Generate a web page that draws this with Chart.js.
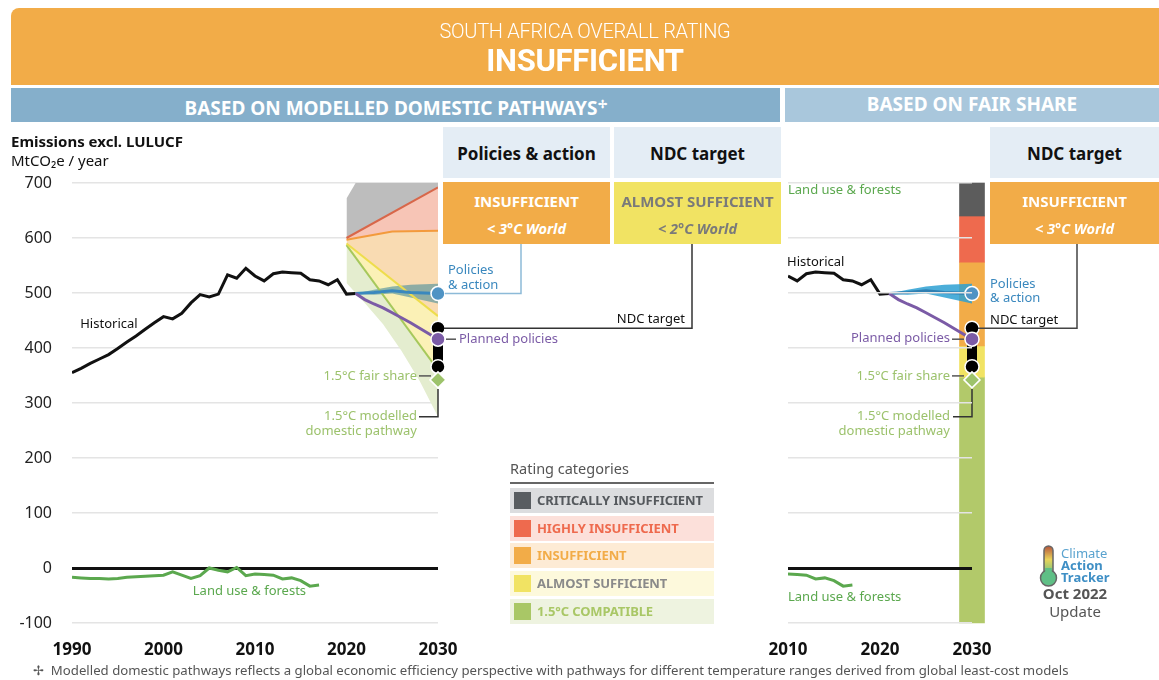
<!DOCTYPE html>
<html>
<head>
<meta charset="utf-8">
<script src="https://cdn.jsdelivr.net/npm/chart.js@4.4.0/dist/chart.umd.min.js"></script>
<style>
  body { margin:0; width:1159px; height:680px; position:relative; overflow:hidden; background:#fff; font-family:"Noto Sans", sans-serif; }
  canvas { position:absolute; left:0; top:0; }
  .abs { position:absolute; box-sizing:border-box; }
  .banner { left:11px; top:8px; width:1148px; height:77px; background:#f2ac48; border-top-left-radius:8px; color:#fff; text-align:center; }
  .banner .t1 { position:absolute; left:0; right:0; top:11px; font-family:Roboto, sans-serif; font-weight:300; font-size:20px; letter-spacing:-0.3px; }
  .banner .t2 { position:absolute; left:0; right:0; top:34px; font-family:Roboto, sans-serif; font-weight:700; font-size:31px; letter-spacing:-0.3px; }
  .bar { top:88px; height:34px; color:#fff; font-weight:700; font-size:19px; text-align:center; line-height:32px; }
  .head { top:127px; height:51px; background:#e4edf5; color:#111; font-weight:700; font-size:17px; text-align:center; line-height:53px; }
  .rate { top:182px; height:62px; text-align:center; font-weight:700; }
  .rate .a { position:absolute; left:0; right:0; top:9px; font-size:15px; }
  .rate .b { position:absolute; left:0; right:0; top:36px; font-size:14.5px; font-style:italic; }
  .ytitle { left:11px; top:132px; font-size:15px; color:#111; line-height:19px; }
  .leg-title { left:510px; top:458px; font-size:14.5px; color:#555; }
  .leg-row { left:510px; width:204px; height:25px; }
  .leg-row .sw { position:absolute; left:4px; top:4px; width:17px; height:17px; }
  .leg-row .tx { position:absolute; left:27px; top:0; line-height:25px; font-size:13px; font-weight:700; letter-spacing:-0.1px; }
  .leg-rule { left:510px; top:482px; width:204px; height:2px; background:#666; }
  .foot { left:33px; top:661px; font-size:13.2px; color:#555; white-space:nowrap; }
</style>
</head>
<body>
<canvas id="leftChart" width="1159" height="680"></canvas>
<canvas id="rightChart" width="1159" height="680"></canvas>

<div class="abs banner"><div class="t1">SOUTH AFRICA OVERALL RATING</div><div class="t2">INSUFFICIENT</div></div>
<div class="abs bar" style="left:11px;width:769px;background:#85afcb;">BASED ON MODELLED DOMESTIC PATHWAYS<sup style="font-size:11px;">✢</sup></div>
<div class="abs bar" style="left:785px;width:374px;background:#a9c7dc;">BASED ON FAIR SHARE</div>

<div class="abs head" style="left:443px;width:167px;">Policies &amp; action</div>
<div class="abs head" style="left:614px;width:167px;">NDC target</div>
<div class="abs head" style="left:990px;width:169px;">NDC target</div>

<div class="abs rate" style="left:443px;width:167px;background:#f2ac48;color:#fff;"><div class="a">INSUFFICIENT</div><div class="b">&lt; 3°C World</div></div>
<div class="abs rate" style="left:614px;width:167px;background:#f1e363;color:#7a7a7a;"><div class="a">ALMOST SUFFICIENT</div><div class="b">&lt; 2°C World</div></div>
<div class="abs rate" style="left:990px;width:169px;background:#f2ac48;color:#fff;"><div class="a">INSUFFICIENT</div><div class="b">&lt; 3°C World</div></div>

<div class="abs ytitle"><b>Emissions excl. LULUCF</b><br>MtCO₂e / year</div>

<div class="abs leg-title">Rating categories</div>
<div class="abs leg-rule"></div>
<div id="legendRows"></div>

<svg class="abs" style="left:1036px;top:544px;" width="26" height="44" viewBox="0 0 26 44">
  <defs><linearGradient id="th" x1="0" y1="0" x2="0" y2="1">
    <stop offset="0" stop-color="#b5543c"/><stop offset="0.45" stop-color="#e9d45a"/><stop offset="1" stop-color="#5fbf86"/></linearGradient></defs>
  <rect x="8" y="2" width="9" height="30" rx="4.5" fill="url(#th)" stroke="#666" stroke-width="1.5"/>
  <circle cx="12.5" cy="34" r="8" fill="#5fbf86" stroke="#666" stroke-width="1.5"/>
  <rect x="9.2" y="24" width="6.6" height="10" fill="#5fbf86"/>
</svg>
<div class="abs" style="left:1061px;top:547px;line-height:12px;font-size:13px;color:#5aa3cf;">Climate<br><b style="color:#3f8fc5">Action<br>Tracker</b></div>
<div class="abs" style="left:1025px;top:584px;width:100px;text-align:center;color:#555;font-size:15px;line-height:18px;"><b>Oct 2022</b><br>Update</div>

<div class="abs foot">✢&nbsp; Modelled domestic pathways reflects a global economic efficiency perspective with pathways for different temperature ranges derived from global least-cost models</div>

<script>
// ---- data ----
const histYears = [1990,1991,1992,1993,1994,1995,1996,1997,1998,1999,2000,2001,2002,2003,2004,2005,2006,2007,2008,2009,2010,2011,2012,2013,2014,2015,2016,2017,2018,2019,2020,2021];
const histValues = [355,363,372,380,388,399,411,422,434,446,457,453,463,482,497,493,498,533,527,545,531,522,535,538,537,536,524,522,515,524,498,499];

const landYears = [1990,1991,1992,1993,1994,1995,1996,1997,1998,1999,2000,2001,2002,2003,2004,2005,2006,2007,2008,2009,2010,2011,2012,2013,2014,2015,2016,2017];
const landValues = [-17,-18,-19,-19,-20,-19,-17,-16,-15,-14,-13,-7,-13,-19,-14,0,-4,-7,1,-14,-11,-12,-13,-20,-18,-23,-33,-31];

const policyYears = [2021,2023,2025,2027,2030];
const policyMid = [499,501,504,501,499];
const policyHigh = [499,506,512,515,517];
const policyLow = [499,497,499,492,481];

const plannedYears = [2021,2022,2023,2024,2025,2026,2027,2028,2029,2030];
const plannedValues = [499,488,480,473,464,455,446,436,426,416];

// modelled domestic pathway boundaries
const critYears = [2020,2021,2030];
const critTop = [672,700,700];
const highlyYears = [2020,2030];
const highlyTop = [600,692];
const insuffYears = [2020,2025,2030];
const insuffTop = [597,612,613];
const almostYears = [2020,2030];
const almostTop = [590,458];
const compatYears = [2020,2030];
const compatTop = [587,360];
const compatLowYears = [2020,2022,2024,2026,2028,2030];
const compatLow = [518,482,443,395,340,275];

const ndcRange = [436,366];
const fairShareLevel = 342;

// fair share ranges in 2030 (critically, highly, insufficient, almost, 1.5C)
const fairShareRanges = [[640,700],[556,640],[404,556],[347,404],[-100,347]];
const fairShareColors = ['#5c5c5c','#ee6a4e','#f2ac48','#f1e363','#b2c96a'];

const categoryNames = ['CRITICALLY INSUFFICIENT','HIGHLY INSUFFICIENT','INSUFFICIENT','ALMOST SUFFICIENT','1.5°C COMPATIBLE'];
const categoryColors = ['#595d61','#ee6a4e','#f2ac48','#f1e363','#a9c766'];
const categoryBg = ['#dcdddf','#fce0da','#fdebd5','#fdf9dc','#eef3e0'];
const categoryText = ['#55595d','#ee6a4e','#f2ac48','#8a8a8a','#a9c766'];
const bandFills = ['#bdbdbd','#f7c5b6','#f9dbb2','#fbf1b6','#e4edcf'];
const bandLines = [null,'#d8674a','#f39a3c','#eedd4c','#a6c85c'];

const yTicks = [-100,0,100,200,300,400,500,600,700];

// ---- legend rows ----
const rowTops = [488,516,543,571,599];
document.getElementById('legendRows').innerHTML = categoryNames.map((n, i) =>
  `<div class="abs leg-row" style="top:${rowTops[i]}px;background:${categoryBg[i]}">` +
  `<div class="sw" style="background:${categoryColors[i]}"></div>` +
  `<div class="tx" style="color:${categoryText[i]}">${n}</div></div>`).join('');

// ---- helpers ----
Chart.defaults.font.family = "'Noto Sans', sans-serif";
const pts = (xs, ys) => xs.map((v, i) => ({ x: v, y: ys[i] }));
const lastR = r => ctx => ctx.dataIndex === ctx.dataset.data.length - 1 ? r : 0;

function label(ctx, str, x, y, color, align) {
  ctx.save();
  ctx.font = "13px 'Noto Sans', sans-serif";
  ctx.fillStyle = color;
  ctx.textAlign = align || 'left';
  ctx.textBaseline = 'middle';
  ctx.fillText(str, x, y);
  ctx.restore();
}
function poly(ctx, p, color, w) {
  ctx.save();
  ctx.strokeStyle = color;
  ctx.lineWidth = w || 1.5;
  ctx.beginPath();
  p.forEach((q, i) => i ? ctx.lineTo(q[0], q[1]) : ctx.moveTo(q[0], q[1]));
  ctx.stroke();
  ctx.restore();
}

const gridOpts = {
  drawTicks: false,
  color: c => c.tick.value === 0 ? '#111' : '#e4e4e4',
  lineWidth: c => c.tick.value === 0 ? 3 : 1.5
};
const xTickOpts = { stepSize: 10, padding: 9, maxRotation: 0, color: '#111', font: { size: 17, weight: 'bold' }, callback: v => String(v) };
const boxBottom = 244;

function markerSets() {
  return [
    { data: pts([2030, 2030], ndcRange), borderColor: '#000', borderWidth: 10, pointRadius: 7,
      pointBackgroundColor: '#000', pointBorderColor: '#fff', pointBorderWidth: 1.5, clip: false, order: 3 },
    { data: pts([2030], [fairShareLevel]), showLine: false, pointStyle: 'rectRot', pointRadius: 8,
      pointBackgroundColor: '#9dc36b', pointBorderColor: '#fff', pointBorderWidth: 1.5, clip: false, order: 1 }
  ];
}

// ---- left chart: modelled domestic pathways ----
const leftNotes = {
  id: 'leftNotes',
  afterDatasetsDraw(chart) {
    const ctx = chart.ctx, X = v => chart.scales.x.getPixelForValue(v), Y = v => chart.scales.y.getPixelForValue(v);
    const xe = X(2030);
    label(ctx, 'Historical', X(1990.9), Y(444), '#111');
    const pY = Y(policyMid[policyMid.length - 1]);
    poly(ctx, [[xe + 7, pY], [521, pY], [521, boxBottom]], '#8dbad8');
    label(ctx, 'Policies', xe + 10, pY - 23, '#3a88be');
    label(ctx, '& action', xe + 10, pY - 8, '#3a88be');
    const nY = Y(ndcRange[0]);
    poly(ctx, [[xe + 6, nY], [692, nY], [692, boxBottom]], '#333');
    label(ctx, 'NDC target', 685, nY - 9, '#111', 'right');
    const plY = Y(plannedValues[plannedValues.length - 1]);
    poly(ctx, [[xe + 8, plY], [xe + 18, plY]], '#555');
    label(ctx, 'Planned policies', xe + 21, plY, '#7b5ba6');
    const fY = Y(fairShareLevel);
    poly(ctx, [[xe - 19, fY - 4], [xe - 7, fY - 4]], '#555');
    label(ctx, '1.5°C fair share', xe - 21, fY - 4, '#9cc26c', 'right');
    const mY = Y(compatLow[compatLow.length - 1]);
    poly(ctx, [[xe - 19, mY], [xe, mY], [xe, fY + 9]], '#333');
    label(ctx, '1.5°C modelled', xe - 21, mY, '#9cc26c', 'right');
    label(ctx, 'domestic pathway', xe - 21, mY + 15, '#9cc26c', 'right');
    label(ctx, 'Land use & forests', X(2003.2), Y(-43), '#5ba84e');
  }
};

const bandX = [critYears, highlyYears, insuffYears, almostYears, compatYears, compatLowYears];
const bandY = [critTop, highlyTop, insuffTop, almostTop, compatTop, compatLow];
const bandSets = bandX.map((xs, i) => ({
  data: pts(xs, bandY[i]),
  borderColor: bandLines[i] || 'rgba(0,0,0,0)',
  borderWidth: bandLines[i] ? 2 : 0,
  backgroundColor: bandFills[i],
  fill: i < 5 ? '+1' : false,
  order: 20
}));

new Chart(document.getElementById('leftChart'), {
  type: 'line',
  data: {
    datasets: [
      ...bandSets,
      { data: pts(policyYears, policyHigh), borderWidth: 0, backgroundColor: 'rgba(70,140,155,0.6)', fill: '+1', order: 10 },
      { data: pts(policyYears, policyLow), borderWidth: 0, fill: false, order: 10 },
      { data: pts(histYears, histValues), borderColor: '#111', borderWidth: 3, order: 5 },
      { data: pts(landYears, landValues), borderColor: '#5ba84e', borderWidth: 3, order: 5 },
      { data: pts(policyYears, policyMid), borderColor: '#3a88be', borderWidth: 3, pointRadius: lastR(7),
        pointBackgroundColor: '#4f93c4', pointBorderColor: '#fff', pointBorderWidth: 1.5, clip: false, order: 4 },
      { data: pts(plannedYears, plannedValues), borderColor: '#7b5ba6', borderWidth: 3, pointRadius: lastR(7),
        pointBackgroundColor: '#7b5ba6', pointBorderColor: '#fff', pointBorderWidth: 1.5, clip: false, order: 2 },
      ...markerSets()
    ]
  },
  options: {
    responsive: false, animation: false, events: [],
    layout: { padding: { left: 0, top: 183, right: 1159 - 438, bottom: 0 } },
    elements: { point: { radius: 0 }, line: { tension: 0 } },
    plugins: { legend: { display: false }, tooltip: { enabled: false }, filler: { drawTime: 'beforeDatasetsDraw' } },
    scales: {
      x: { type: 'linear', min: 1990, max: 2030, offset: false, grid: { display: false }, border: { display: false },
           ticks: xTickOpts, afterFit: s => { s.height = 57; } },
      y: { min: -100, max: 700, grid: gridOpts, border: { display: false },
           ticks: { stepSize: 100, padding: 20, color: '#222', font: { size: 16 }, callback: v => String(v) },
           afterBuildTicks: s => { s.ticks = yTicks.map(v => ({ value: v })); },
           afterFit: s => { s.width = 72; } }
    }
  },
  plugins: [leftNotes]
});

// ---- right chart: fair share ----
const rightNotes = {
  id: 'rightNotes',
  afterDatasetsDraw(chart) {
    const ctx = chart.ctx, X = v => chart.scales.x.getPixelForValue(v), Y = v => chart.scales.y.getPixelForValue(v);
    const xe = X(2030);
    label(ctx, 'Land use & forests', X(2010), Y(686), '#5ba84e');
    label(ctx, 'Historical', X(2010) - 1, Y(556), '#111');
    const pY = Y(policyMid[policyMid.length - 1]);
    label(ctx, 'Policies', xe + 18, pY - 9, '#3a88be');
    label(ctx, '& action', xe + 18, pY + 5, '#3a88be');
    const nY = Y(ndcRange[0]);
    poly(ctx, [[xe + 6, nY], [1077, nY], [1077, boxBottom]], '#444');
    label(ctx, 'NDC target', xe + 18, nY - 8, '#111');
    const plY = Y(plannedValues[plannedValues.length - 1]);
    poly(ctx, [[xe - 20, plY], [xe - 8, plY]], '#555');
    label(ctx, 'Planned policies', xe - 22, plY - 1, '#7b5ba6', 'right');
    const fY = Y(fairShareLevel);
    poly(ctx, [[xe - 20, fY - 4], [xe - 8, fY - 4]], '#555');
    label(ctx, '1.5°C fair share', xe - 22, fY - 4, '#9cc26c', 'right');
    const mY = Y(compatLow[compatLow.length - 1]);
    poly(ctx, [[xe - 19, mY], [xe, mY], [xe, fY + 9]], '#333');
    label(ctx, '1.5°C modelled', xe - 22, mY, '#9cc26c', 'right');
    label(ctx, 'domestic pathway', xe - 22, mY + 15, '#9cc26c', 'right');
    label(ctx, 'Land use & forests', X(2010), Y(-53), '#5ba84e');
  }
};

const fairSets = fairShareRanges.map((r, i) => ({
  type: 'bar', data: [{ x: 2030, y: r }], backgroundColor: fairShareColors[i],
  barThickness: 25, grouped: false, clip: false, order: 30
}));

new Chart(document.getElementById('rightChart'), {
  type: 'line',
  data: {
    datasets: [
      ...fairSets,
      { data: pts(policyYears, policyHigh), borderWidth: 0, backgroundColor: 'rgba(45,160,210,0.85)', fill: '+1', clip: false, order: 10 },
      { data: pts(policyYears, policyLow), borderWidth: 0, fill: false, order: 10 },
      { data: pts(histYears.slice(20), histValues.slice(20)), borderColor: '#111', borderWidth: 3, order: 5 },
      { data: pts(landYears.slice(20), landValues.slice(20)), borderColor: '#5ba84e', borderWidth: 3, order: 5 },
      { data: pts(policyYears, policyMid), borderColor: '#2f7fb3', borderWidth: 3, pointRadius: lastR(7),
        pointBackgroundColor: '#4f93c4', pointBorderColor: '#fff', pointBorderWidth: 1.5, clip: false, order: 4 },
      { data: pts(plannedYears, plannedValues), borderColor: '#7b5ba6', borderWidth: 3, pointRadius: lastR(7),
        pointBackgroundColor: '#7b5ba6', pointBorderColor: '#fff', pointBorderWidth: 1.5, clip: false, order: 2 },
      ...markerSets()
    ]
  },
  options: {
    responsive: false, animation: false, events: [],
    layout: { padding: { left: 788, top: 183, right: 1159 - 972, bottom: 0 } },
    elements: { point: { radius: 0 }, line: { tension: 0 } },
    plugins: { legend: { display: false }, tooltip: { enabled: false }, filler: { drawTime: 'beforeDatasetDraw' } },
    scales: {
      x: { type: 'linear', min: 2010, max: 2030, offset: false, grid: { display: false }, border: { display: false },
           ticks: xTickOpts, afterFit: s => { s.height = 57; } },
      y: { min: -100, max: 700, grid: Object.assign({ z: 1 }, gridOpts), border: { display: false },
           ticks: { display: false, stepSize: 100 },
           afterBuildTicks: s => { s.ticks = yTicks.map(v => ({ value: v })); },
           afterFit: s => { s.width = 0; } }
    }
  },
  plugins: [rightNotes]
});
</script>
</body>
</html>
